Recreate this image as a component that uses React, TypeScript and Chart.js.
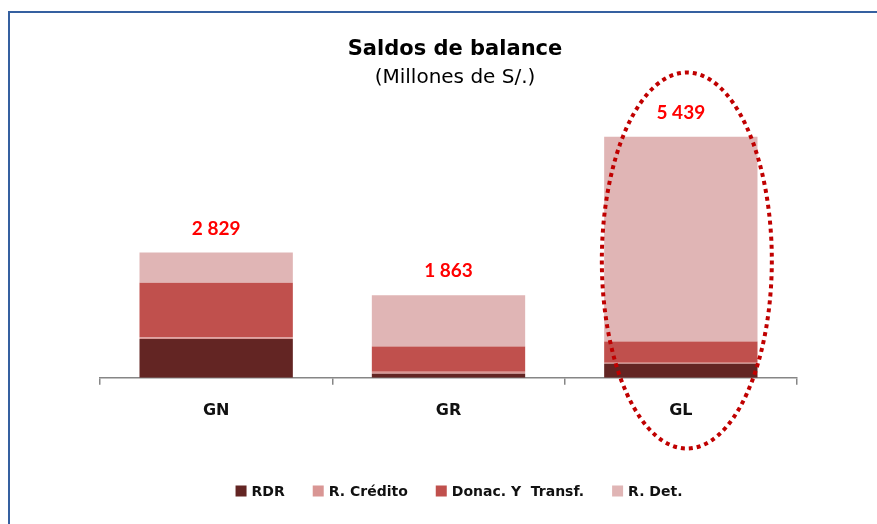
import React, { useEffect, useRef } from "react";
import { Chart, registerables } from "chart.js";

Chart.register(...registerables);

const categories = ["GN", "GR", "GL"];
const rdr = [874, 91, 316];
const rCredito = [40, 45, 23];
const donac = [1231, 568, 480];
const rDet = [684, 1159, 4620];
const seriesNames = ["RDR", "R. Crédito", "Donac. Y  Transf.", "R. Det."];
const seriesColors = ["#632523", "#D99694", "#C0504D", "#E0B5B5"];
const titleText = "Saldos de balance";
const subtitleText = "(Millones de S/.)";
const WIDE = "'DejaVu Sans', Verdana, sans-serif";
const NUM = "Lato, 'Open Sans', sans-serif";

function fmt(n: number) {
  return String(Math.round(n)).replace(/\B(?=(\d{3})+(?!\d))/g, " ");
}

const overlay = {
  id: "overlay",
  beforeDraw(chart: any) {
    const ctx = chart.ctx;
    ctx.save();
    ctx.strokeStyle = "#3560A0";
    ctx.lineWidth = 2;
    ctx.beginPath();
    ctx.moveTo(9, chart.height + 5);
    ctx.lineTo(9, 12);
    ctx.lineTo(chart.width + 5, 12);
    ctx.stroke();
    ctx.restore();
  },
  afterDraw(chart: any) {
    const ctx = chart.ctx;
    const x = chart.scales.x;
    const y = chart.scales.y;
    ctx.save();
    // title
    ctx.fillStyle = "#000";
    ctx.textAlign = "center";
    ctx.textBaseline = "middle";
    ctx.font = `bold 21px ${WIDE}`;
    ctx.fillText(titleText, 455, 50);
    ctx.font = `20px ${WIDE}`;
    ctx.fillText(subtitleText, 455, 78);

    // totals labels
    const ds = chart.data.datasets;
    categories.forEach((_, i) => {
      let total = 0;
      ds.forEach((d: any) => (total += d.data[i]));
      const px = x.getPixelForValue(i);
      const py = y.getPixelForValue(total) - 24;
      ctx.fillStyle = "#fff";
      ctx.fillRect(px - 62, py - 16, 124, 34);
      ctx.fillStyle = "#FF0000";
      ctx.font = `bold 19px ${NUM}`;
      ctx.fillText(fmt(total), px, py);
    });

    // dotted ellipse around GL
    const cx = x.getPixelForValue(2) + 6;
    ctx.strokeStyle = "#C00000";
    ctx.lineWidth = 4;
    ctx.setLineDash([4, 4]);
    ctx.beginPath();
    ctx.ellipse(cx, 260.5, 85, 188, 0, 0, Math.PI * 2);
    ctx.stroke();
    ctx.setLineDash([]);

    // legend
    ctx.font = `bold 14px ${WIDE}`;
    ctx.textAlign = "left";
    const box = 11, gapTxt = 5, gapItem = 28;
    const widths = seriesNames.map((n) => box + gapTxt + ctx.measureText(n).width);
    const total = widths.reduce((a, b) => a + b, 0) + gapItem * (widths.length - 1);
    let lx = 459 - total / 2;
    const ly = 491;
    seriesNames.forEach((n, i) => {
      ctx.fillStyle = seriesColors[i];
      ctx.fillRect(lx, ly - 5.5, box, box);
      ctx.fillStyle = "#111";
      ctx.fillText(n, lx + box + gapTxt, ly + 1);
      lx += widths[i] + gapItem;
    });
    ctx.restore();
  },
};

export default function App() {
  const ref = useRef<HTMLCanvasElement>(null);
  useEffect(() => {
    if (!ref.current) return;
    const values = [rdr, rCredito, donac, rDet];
    const chart = new Chart(ref.current, {
      type: "bar",
      data: {
        labels: categories,
        datasets: values.map((v, i) => ({
          label: seriesNames[i],
          data: v,
          backgroundColor: seriesColors[i],
          borderWidth: 0,
          barPercentage: 0.66,
          categoryPercentage: 1,
        })),
      },
      options: {
        responsive: false,
        animation: false,
        devicePixelRatio: 1,
        layout: { padding: { left: 100, right: 80, top: 112, bottom: 88 } },
        plugins: {
          legend: { display: false },
          title: { display: false },
          tooltip: { enabled: false },
        },
        scales: {
          x: {
            stacked: true,
            border: { color: "#868686", width: 1.5 },
            grid: {
              offset: true,
              drawOnChartArea: false,
              drawTicks: true,
              tickLength: 7,
              color: "#868686",
              lineWidth: 1.5,
            },
            ticks: {
              padding: 16,
              color: "#111",
              font: { family: WIDE, size: 16, weight: "bold" },
            },
          },
          y: {
            stacked: true,
            display: false,
            min: 0,
            max: 6000,
          },
        },
      },
      plugins: [overlay],
    });
    return () => chart.destroy();
  }, []);
  return (
    <div style={{ position: "absolute", left: 0, top: 0, width: 877, height: 524, background: "#fff" }}>
      <canvas ref={ref} width={877} height={524} style={{ width: 877, height: 524, display: "block" }} />
    </div>
  );
}
